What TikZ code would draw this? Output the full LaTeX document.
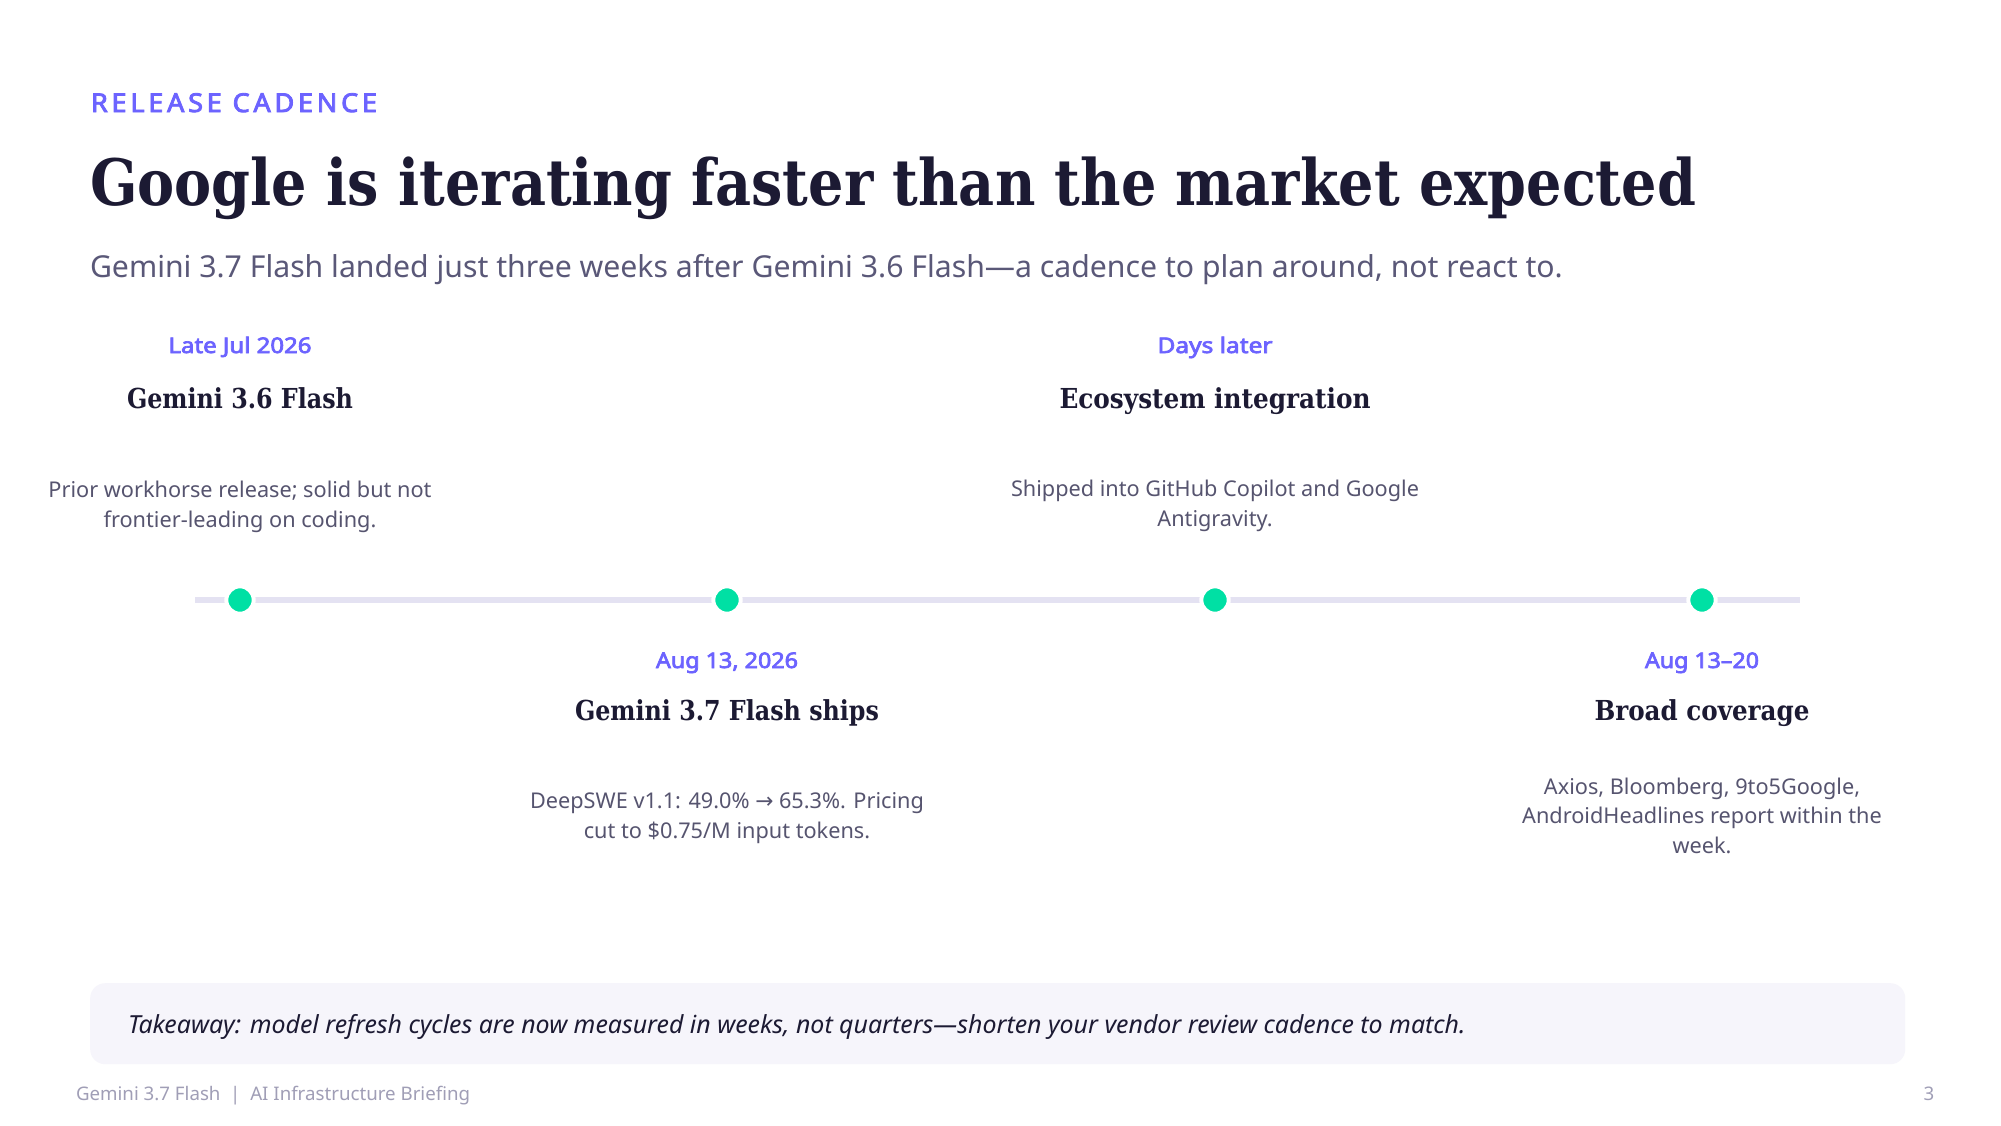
\documentclass[tikz,border=0pt]{standalone}
\usepackage{fontspec}
\usepackage{graphicx}
\setmainfont{Noto Sans}
\newfontfamily\hfont{DejaVu Serif}
\newfontfamily\bsans{Noto Sans}[FakeBold=3.2]
\newfontfamily\symfont{DejaVu Sans}
\usetikzlibrary{backgrounds}
\definecolor{accent}{HTML}{6C63FF}
\definecolor{ink}{HTML}{1C1A33}
\definecolor{subc}{HTML}{5A5878}
\definecolor{bodyc}{HTML}{56546F}
\definecolor{footc}{HTML}{A09EB6}
\definecolor{track}{HTML}{E4E2F2}
\definecolor{dotc}{HTML}{00E0A4}
\definecolor{panel}{HTML}{F6F5FB}
\newcommand{\fitw}[2]{\resizebox{#1}{\height}{#2}}
\tikzset{
  txt/.style={inner sep=0pt, outer sep=0pt},
  kicker/.style={txt, text=accent, font=\bsans\fontsize{26}{30}\selectfont\addfontfeatures{LetterSpace=14}},
  titlestyle/.style={txt, text=ink, font=\hfont\bfseries\fontsize{64}{70}\selectfont},
  subtitle/.style={txt, text=subc, font=\fontsize{30.2}{36}\selectfont},
  datelab/.style={txt, text=accent, font=\bsans\fontsize{21.5}{26}\selectfont},
  evhead/.style={txt, text=ink, font=\hfont\bfseries\fontsize{27.5}{32}\selectfont},
  evdesc/.style={txt, text=bodyc, align=center, font=\fontsize{21.7}{29.2}\selectfont},
  milestone/.style={circle, fill=dotc, draw=white, line width=4pt, minimum size=27.4pt, inner sep=0pt},
  trackline/.style={draw=track, line width=6pt},
  panelbox/.style={fill=panel, rounded corners=15pt, inner sep=0pt, anchor=north west, minimum width=1815pt, minimum height=81pt},
  takeaway/.style={txt, text=ink, font=\fontsize{24.9}{30}\selectfont\itshape},
  footer/.style={txt, text=footc, font=\fontsize{18.7}{22}\selectfont},
}
\begin{document}
\begin{tikzpicture}[x=1pt, y=-1pt]
\useasboundingbox (0,0) rectangle (2001,1125);

% header
\node[kicker, anchor=base west] (kick) at (91,112) {\fitw{286pt}{RELEASE CADENCE}};
\node[titlestyle, anchor=base west] (title) at (90,205) {\fitw{1606pt}{Google is iterating faster than the market expected}};
\node[subtitle, anchor=base west] (sub) at (90,277) {Gemini 3.7 Flash landed just three weeks after Gemini 3.6 Flash—a cadence to plan around, not react to.};

% timeline
\coordinate (L) at (195,600);
\coordinate (R) at (1800,600);
\node[milestone] (d1) at (240,600) {};
\node[milestone] (d2) at (727,600) {};
\node[milestone] (d3) at (1215,600) {};
\node[milestone] (d4) at (1702,600) {};
\begin{scope}[on background layer]
\fill[white] (0,0) rectangle (2001,1125);
\draw[trackline] (L) -- (d1.center) -- (d2.center) -- (d3.center) -- (d4.center) -- (R);
\end{scope}

% event 1 (top)
\node[datelab, anchor=base] (t1) at (240,353) {\fitw{143pt}{Late Jul 2026}};
\node[evhead, anchor=base] (h1) at (240,408) {\fitw{226pt}{Gemini 3.6 Flash}};
\node[evdesc, anchor=base] (e1) at (240,527) {Prior workhorse release; solid but not\\frontier-leading on coding.};

% event 2 (bottom)
\node[datelab, anchor=base] (t2) at (727,668) {\fitw{142pt}{Aug 13, 2026}};
\node[evhead, anchor=base] (h2) at (727,720) {\fitw{304pt}{Gemini 3.7 Flash ships}};
\node[evdesc, anchor=base] (e2) at (727,838) {DeepSWE v1.1: 49.0\% {\symfont →} 65.3\%. Pricing\\cut to \$0.75/M input tokens.};

% event 3 (top)
\node[datelab, anchor=base] (t3) at (1215,353) {\fitw{115pt}{Days later}};
\node[evhead, anchor=base] (h3) at (1215,408) {\fitw{311pt}{Ecosystem integration}};
\node[evdesc, anchor=base] (e3) at (1215,526) {Shipped into GitHub Copilot and Google\\Antigravity.};

% event 4 (bottom)
\node[datelab, anchor=base] (t4) at (1702,668) {\fitw{114pt}{Aug 13–20}};
\node[evhead, anchor=base] (h4) at (1702,720) {\fitw{215pt}{Broad coverage}};
\node[evdesc, anchor=base] (e4) at (1702,853) {Axios, Bloomberg, 9to5Google,\\AndroidHeadlines report within the\\week.};

% takeaway
\node[panelbox] (box) at (90,983) {};
\node[takeaway, anchor=base west] (tk) at (128,1033) {Takeaway: model refresh cycles are now measured in weeks, not quarters—shorten your vendor review cadence to match.};

% footer
\node[footer, anchor=base west] (f1) at (76,1100) {Gemini 3.7 Flash \ | \ AI Infrastructure Briefing};
\node[footer, anchor=base] (f2) at (1929,1100) {3};
\end{tikzpicture}
\end{document}
